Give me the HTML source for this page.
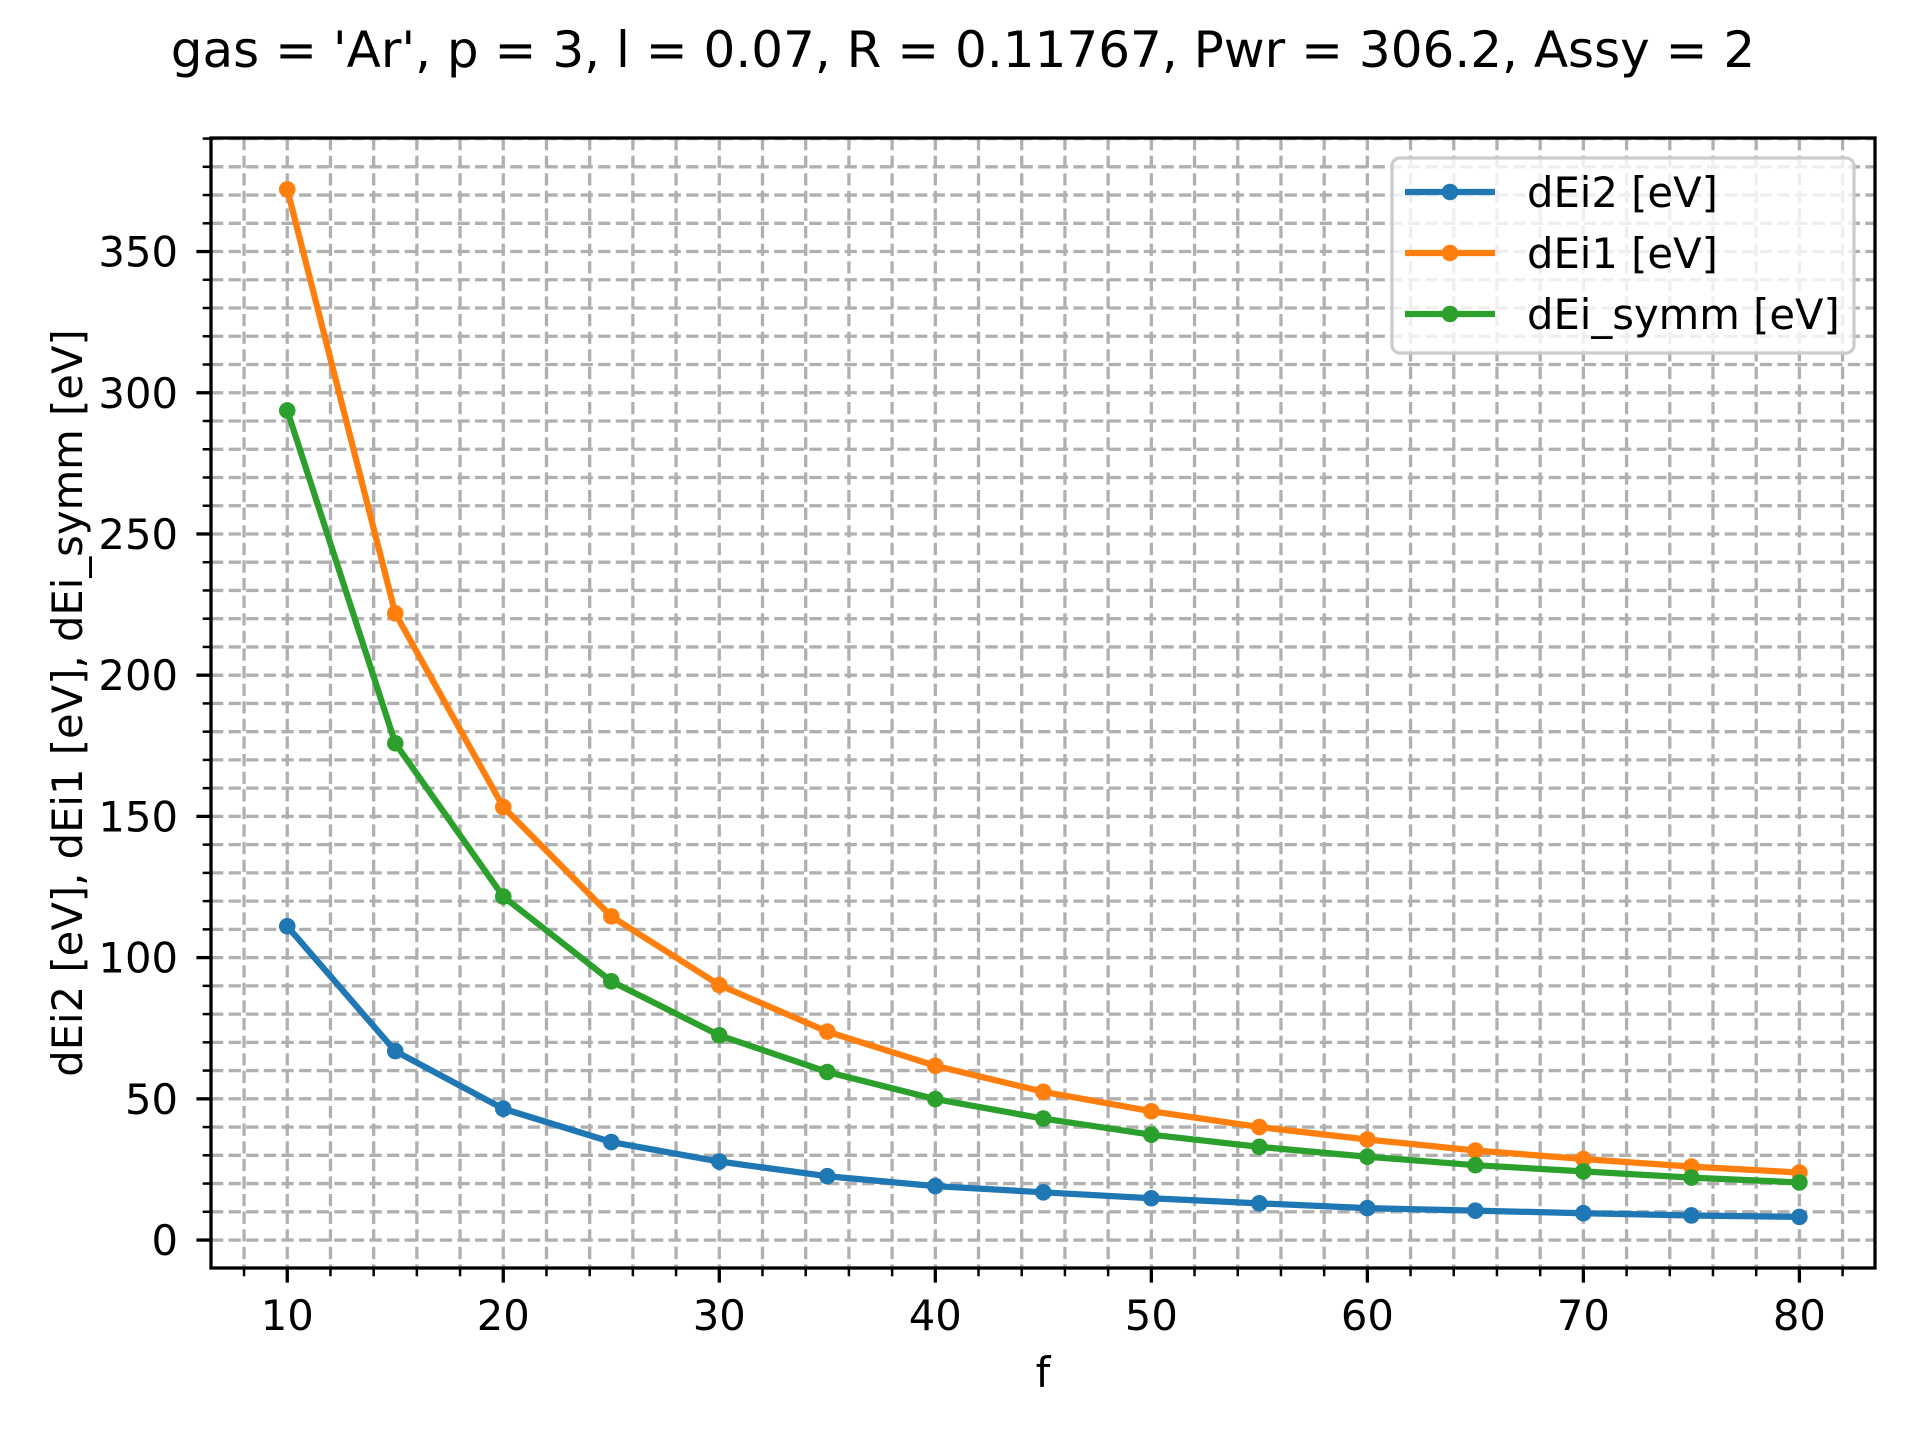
<!DOCTYPE html>
<html><head><meta charset="utf-8"><style>
html,body{margin:0;padding:0;background:#fff;}
svg{display:block;font-family:"DejaVu Sans","Liberation Sans",sans-serif;}
</style></head><body>
<svg id="chart" width="1920" height="1440" viewBox="0 0 1920 1440" xmlns="http://www.w3.org/2000/svg">
<rect width="1920" height="1440" fill="#fff"/>
<text x="963" y="67" font-size="50" text-anchor="middle">gas = 'Ar', p = 3, l = 0.07, R = 0.11767, Pwr = 306.2, Assy = 2</text>
<g id="grid"></g>
<g id="series"></g>
<rect x="211" y="138" width="1664" height="1130" fill="none" stroke="#000" stroke-width="3.3"/>
<g id="ticks"></g>
<text x="1043" y="1387" font-size="41.7" text-anchor="middle">f</text>
<text transform="translate(82,703) rotate(-90)" font-size="41.7" text-anchor="middle">dEi2 [eV], dEi1 [eV], dEi_symm [eV]</text>
<g id="legend"></g>
</svg>
<script>
const fVals = [10,15,20,25,30,35,40,45,50,55,60,65,70,75,80];
const dEi2 = [111.1,66.9,46.5,34.7,27.8,22.6,19.1,16.9,14.8,13.0,11.3,10.4,9.5,8.7,8.2];
const dEi1 = [372,221.9,153.3,114.6,90.3,73.8,61.7,52.5,45.6,40.0,35.6,31.7,28.7,26.0,23.9];
const dEiSymm = [293.7,175.9,121.6,91.6,72.5,59.5,49.9,43.0,37.3,33.0,29.5,26.5,24.3,22.1,20.4];
const xTickLabels = ["10","20","30","40","50","60","70","80"];
const yTickLabels = ["0","50","100","150","200","250","300","350"];
const seriesNames = ["dEi2 [eV]","dEi1 [eV]","dEi_symm [eV]"];

const NS="http://www.w3.org/2000/svg";
const L=211,R=1875,T=138,B=1268;
const xMin=6.47,xMax=83.5,yMin=-9.9,yMax=390.2;
function xs(v){return L+(v-xMin)/(xMax-xMin)*(R-L);}
function ys(v){return B-(v-yMin)/(yMax-yMin)*(B-T);}
function mk(tag,attrs,parent){const e=document.createElementNS(NS,tag);for(const k in attrs)e.setAttribute(k,attrs[k]);parent.appendChild(e);return e;}

const grid=document.getElementById('grid');
const ticks=document.getElementById('ticks');
for(let v=8;v<=82;v+=2){
  const x=xs(v);
  const g=mk('line',{x1:x,x2:x,y1:T,y2:B,stroke:'#b0b0b0','stroke-width':3.3,'stroke-dasharray':'12.3,5.3'},grid);
  
  
  const major=(v%10===0);
  const t=mk('line',{x1:x,x2:x,y1:B,y2:B+(major?14.6:8.3),stroke:'#000','stroke-width':major?3.3:2.5},ticks);
  
  
}
xTickLabels.forEach(s=>{
  const tx=mk('text',{x:xs(+s),y:1330,'font-size':41.7,'text-anchor':'middle'},ticks);
  tx.textContent=s;
  
  
});
for(let v=0;v<=390;v+=10){
  const y=ys(v);
  const g=mk('line',{x1:L,x2:R,y1:y,y2:y,stroke:'#b0b0b0','stroke-width':3.3,'stroke-dasharray':'12.3,5.3'},grid);
  
  
  const major=(v%50===0);
  const t=mk('line',{x1:L-(major?14.6:8.3),x2:L,y1:y,y2:y,stroke:'#000','stroke-width':major?3.3:2.5},ticks);
  
  
}
yTickLabels.forEach(s=>{
  const ty=mk('text',{x:178,y:ys(+s)+15,'font-size':41.7,'text-anchor':'end'},ticks);
  ty.textContent=s;
  
  
});

const colors=['#1f77b4','#ff7f0e','#2ca02c'];
const allSeries=[dEi2,dEi1,dEiSymm];
const sg=document.getElementById('series');
allSeries.forEach((arr,i)=>{
  const pts=arr.map((v,j)=>xs(fVals[j])+','+ys(v)).join(' ');
  const pl=mk('polyline',{points:pts,fill:'none',stroke:colors[i],'stroke-width':6.25,'stroke-linejoin':'round','stroke-linecap':'square'},sg);
  
  
  arr.forEach((v,j)=>{
    const c=mk('circle',{cx:xs(fVals[j]),cy:ys(v),r:8.3,fill:colors[i]},sg);
    
    
  });
});

const lg=document.getElementById('legend');
const box=mk('rect',{x:1392,y:158,width:462,height:195,rx:8,fill:'#fff','fill-opacity':0.8,stroke:'#cccccc','stroke-width':3.3},lg);


const rowY=[192,253,314];
seriesNames.forEach((n,i)=>{
  const ln=mk('line',{x1:1405,x2:1495,y1:rowY[i],y2:rowY[i],stroke:colors[i],'stroke-width':6.25},lg);
  
  
  const c=mk('circle',{cx:1450,cy:rowY[i],r:8.3,fill:colors[i]},lg);
  
  
  const t=mk('text',{x:1527,y:rowY[i]+15,'font-size':41.7},lg);
  t.textContent=n;
  
  
});
</script>
</body></html>
